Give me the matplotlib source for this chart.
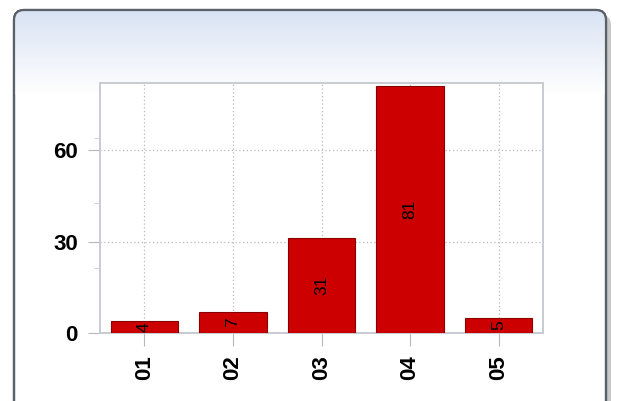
import matplotlib.pyplot as plt
import numpy as np
from matplotlib.patches import FancyBboxPatch

categories = ['01', '02', '03', '04', '05']
values = [4, 7, 31, 81, 5]
y_major = [0, 30, 60]
y_minor = [21.3, 42.6, 63.9]

W, H = 620, 401
fig = plt.figure(figsize=(W / 100, H / 100), dpi=100)

# panel behind the chart
bg = fig.add_axes([0, 0, 1, 1])
bg.set_xlim(0, W)
bg.set_ylim(H, 0)
bg.axis('off')
shadow = FancyBboxPatch((19, 15), 592, 420, boxstyle='round,pad=0,rounding_size=10',
                        facecolor='#c8c8c8', edgecolor='none')
bg.add_patch(shadow)
panel = FancyBboxPatch((14, 10), 592, 420, boxstyle='round,pad=0,rounding_size=10',
                       facecolor='white', edgecolor='#5b6169', linewidth=1.6)
bg.add_patch(panel)
grad = np.linspace(0, 1, 256).reshape(-1, 1, 1)
top = np.array([0.85, 0.89, 0.955])
rgb = top + (1.0 - top) * grad
rgb = np.repeat(rgb, 2, axis=1)
im = bg.imshow(rgb, extent=(14, 606, 95, 10), aspect='auto', zorder=1)
im.set_clip_path(panel)
bg.add_patch(FancyBboxPatch((14, 10), 592, 420, boxstyle='round,pad=0,rounding_size=10',
                            facecolor='none', edgecolor='#5b6169', linewidth=1.6, zorder=2))

ax = fig.add_axes([100 / W, 68 / H, 443 / W, 250 / H])
x = np.arange(len(categories))
ax.bar(x, values, width=0.76, color='#cc0000', edgecolor='#8a0000', linewidth=0.8, zorder=3)
for i, v in enumerate(values):
    ax.text(i, v / 2, str(v), rotation=90, ha='center', va='center',
            fontsize=12.5, family='Liberation Sans', color='black', zorder=4)

ax.set_xlim(-0.5, len(categories) - 0.5)
ax.set_ylim(0, 82)
ax.set_xticks(x)
ax.set_xticklabels(categories, rotation=90, fontsize=16, fontweight='bold', family='Liberation Sans')
ax.set_yticks(y_major)
ax.set_yticklabels([str(t) for t in y_major], fontsize=16, fontweight='bold', family='Liberation Sans')
ax.set_yticks(y_minor, minor=True)
ax.grid(True, color='#b8b8b8', linestyle=(0, (1, 2)), linewidth=0.9, zorder=0)
ax.tick_params(axis='both', which='major', length=9, color='#b8b8b8', pad=7)
ax.tick_params(axis='y', which='minor', length=4, color='#c8ccd2')
for tl in ax.xaxis.get_ticklines() + ax.yaxis.get_ticklines():
    tl.set_linestyle((0, (1, 2)))
for s in ax.spines.values():
    s.set_color('#c8ccd2')
    s.set_linewidth(1.4)
ax.set_facecolor('white')

fig.savefig('out.png', dpi=100)
